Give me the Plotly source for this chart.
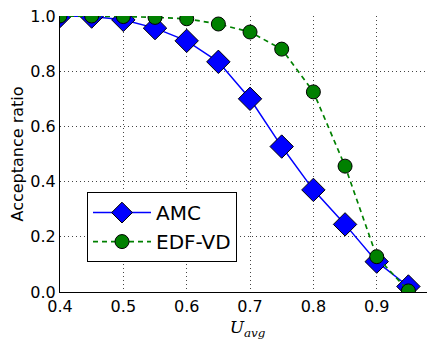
import plotly.graph_objects as go

u_avg = [0.4, 0.45, 0.5, 0.55, 0.6, 0.65, 0.7, 0.75, 0.8, 0.85, 0.9, 0.95]
amc = [1.0, 0.998, 0.986, 0.956, 0.91, 0.834, 0.70, 0.527, 0.37, 0.245, 0.11, 0.02]
edf_vd = [1.0, 1.0, 0.998, 0.995, 0.99, 0.971, 0.942, 0.88, 0.725, 0.456, 0.128, 0.004]
x_ticks = [0.4, 0.5, 0.6, 0.7, 0.8, 0.9]
y_ticks = [0.0, 0.2, 0.4, 0.6, 0.8, 1.0]

fig = go.Figure()
fig.add_trace(go.Scatter(
    x=u_avg, y=amc, name="AMC", mode="lines+markers",
    line=dict(color="#0000ff", width=1.5),
    marker=dict(symbol="diamond", size=18, color="#0000ff",
                line=dict(color="black", width=1)),
))
fig.add_trace(go.Scatter(
    x=u_avg, y=edf_vd, name="EDF-VD", mode="lines+markers",
    line=dict(color="#008000", width=1.7, dash="5px,4px"),
    marker=dict(symbol="circle", size=14, color="#008000",
                line=dict(color="black", width=1)),
))

grid = dict(showgrid=True, gridcolor="#444444", griddash="1px,3px", gridwidth=1)

fig.update_layout(
    width=427, height=332,
    margin=dict(l=52, r=0, t=8, b=48),
    plot_bgcolor="white", paper_bgcolor="white",
    font=dict(family="DejaVu Sans", size=16, color="black"),
    legend=dict(
        x=0.072, y=0.362, xanchor="left", yanchor="top",
        bordercolor="black", borderwidth=1, bgcolor="white",
        font=dict(size=20), itemwidth=58, tracegroupgap=2,
    ),
    xaxis=dict(
        range=[0.4, 0.992], tickvals=x_ticks, ticktext=[f"{v:.1f}" for v in x_ticks],
        **grid,
        showline=True, linecolor="black", linewidth=1.2, mirror=False,
        zeroline=False, ticks="", ticklen=0, automargin=False,
        ticklabeloverflow="allow",
        title=dict(text="<i>U</i><sub><i>avg</i></sub>",
                   font=dict(family="DejaVu Serif", size=17), standoff=6),
    ),
    yaxis=dict(
        range=[0, 1.0], tickvals=y_ticks, ticktext=[f"{v:.1f}" for v in y_ticks],
        **grid,
        showline=True, linecolor="black", linewidth=1.2,
        zeroline=False, ticks="", automargin=False,
        ticklabeloverflow="allow",
        title=dict(text="Acceptance ratio", font=dict(size=16), standoff=8),
    ),
)

fig.write_html("out.html")
